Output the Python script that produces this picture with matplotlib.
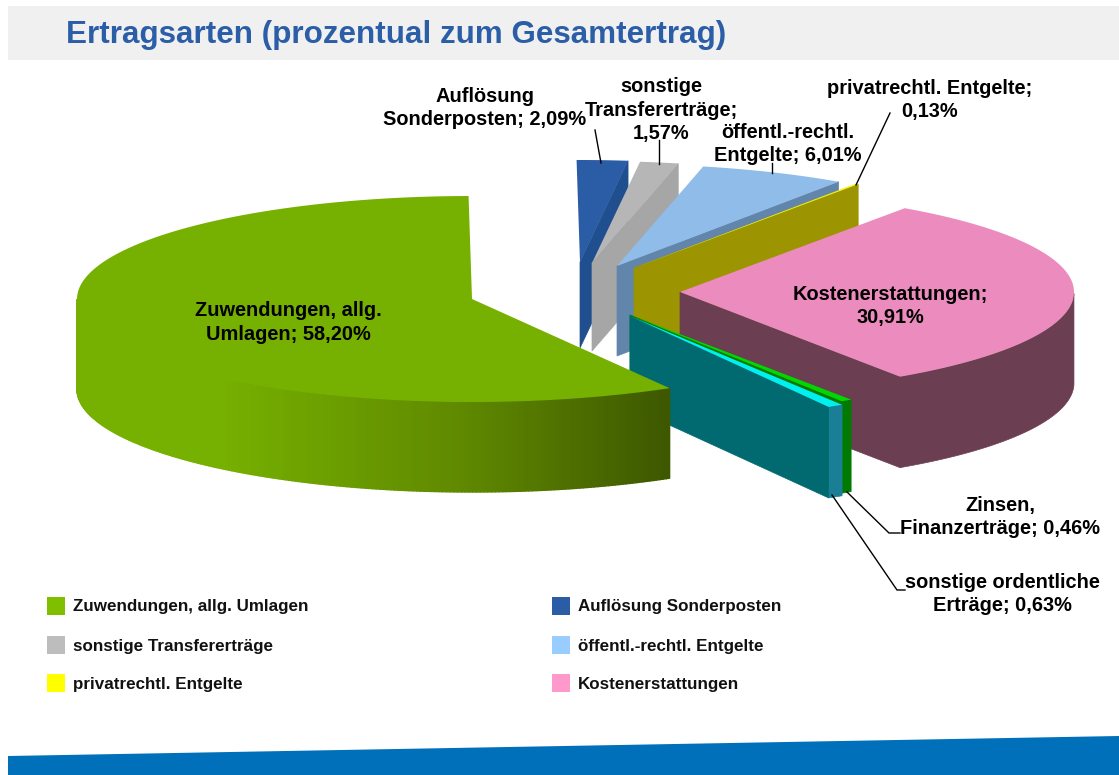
import numpy as np
import matplotlib
matplotlib.use("Agg")
import matplotlib.pyplot as plt
from matplotlib.patches import Polygon, Rectangle
from matplotlib.collections import PolyCollection
from matplotlib.colors import to_rgb

plt.rcParams['font.family'] = ['Liberation Sans', 'DejaVu Sans']

# ---- data ----
categories = ["Zuwendungen, allg. Umlagen", "Auflösung Sonderposten", "sonstige Transfererträge",
              "öffentl.-rechtl. Entgelte", "privatrechtl. Entgelte", "Kostenerstattungen",
              "Zinsen, Finanzerträge", "sonstige ordentliche Erträge"]
values = [58.20, 2.09, 1.57, 6.01, 0.13, 30.91, 0.46, 0.63]
title = "Ertragsarten (prozentual zum Gesamtertrag)"
data_labels = ["Zuwendungen, allg.\nUmlagen; 58,20%", "Auflösung\nSonderposten; 2,09%",
               "sonstige\nTransfererträge;\n1,57%", "öffentl.-rechtl.\nEntgelte; 6,01%",
               "privatrechtl. Entgelte;\n0,13%", "Kostenerstattungen;\n30,91%",
               "Zinsen,\nFinanzerträge; 0,46%", "sonstige ordentliche\nErträge; 0,63%"]
legend_items = categories[:6]

# ---- style / layout (pixels) ----
top_cols = ["#76B000", "#2B5CA6", "#B6B6B6", "#8FBCE8", "#F2F200", "#EC8BBD", "#00D800", "#00F0F0"]
face_cols = [None, "#1F4F8F", "#A6A6A6", "#6285AC", "#9C9400", "#6B3E52", "#007A00", "#006A70"]
rim_cols = ["#7AA800", None, None, None, None, "#6B3E52", "#007A00", "#1A7F96"]
apex = [(472, 299), (580, 262), (592, 263), (617, 266), (634, 268), (680, 292), (630, 315), (630, 316)]
rx = [395, 393, 393, 393, 393, 394, 396, 397]
ry = [103, 102, 102, 102, 102, 102, 102, 105]
depth = [90, 86, 88, 90, 90, 91, 92, 91]
start_angle = 90.5
leg_cols = ["#80BF00", "#2B5CA6", "#BDBDBD", "#99CCFF", "#FFFF00", "#FF99CC"]
leg_pos = [(47, 606), (552, 606), (47, 645), (552, 645), (47, 683), (552, 683)]
label_pos = [(288, 322.5), (485, 108), (661, 110), (788, 144), (930, 100), (890, 306), (1000, 517), (1002, 594)]
leaders = [[(595, 130), (601, 163)], [(659, 140), (659, 164)], [(772, 163), (772, 173)],
           [(890, 113), (856, 185)], [(847, 492), (889, 533), (900, 533)],
           [(832, 495), (897, 590), (905, 590)]]

fig = plt.figure(figsize=(11.19, 7.75), dpi=100)
ax = fig.add_axes([0, 0, 1, 1])
ax.set_xlim(0, 1119)
ax.set_ylim(775, 0)
ax.axis("off")

# header + footer
ax.add_patch(Rectangle((8, 6), 1111, 54, fc="#F0F0F0", ec="none"))
ax.text(66, 35, title, fontsize=22.6, fontweight="bold", color="#2B5EA7", va="center", ha="left")
ax.add_patch(Polygon([(8, 756), (1119, 736), (1119, 775), (8, 775)], fc="#0070BA", ec="none"))

# slice angles (clockwise), every slice from its value
spans = np.array(values) / sum(values) * 360
ends = np.empty(len(values))
starts = np.empty(len(values))
a = start_angle + spans[0]
for i, s in enumerate(spans):
    starts[i], ends[i] = a, a - s
    a -= s


def rim(i, t):
    t = np.radians(t)
    return apex[i][0] + rx[i] * np.cos(t), apex[i][1] - ry[i] * np.sin(t)


def green_shade(x):
    c0, c1, c2 = map(np.array, map(to_rgb, ["#76B000", "#5F8800", "#3E5800"]))
    u = (x - 77) / (668 - 77)
    if u < 0.25:
        return c0
    if u < 0.66:
        return c0 + (c1 - c0) * (u - 0.25) / 0.41
    return c1 + (c2 - c1) * (u - 0.66) / 0.34


def draw_slice(i):
    ts = np.linspace(starts[i], ends[i], 120)
    xs, ys = rim(i, ts)
    # outer wall: only the part that faces the viewer
    vis = np.sin(np.radians(ts)) <= 0
    if rim_cols[i] is not None and vis.sum() > 1:
        xv, yv = xs[vis], ys[vis]
        if i == 0:  # gradient along the wall
            tv = np.linspace(ts[vis][0], ts[vis][-1], 221)
            xg, yg = rim(i, tv)
            polys = [[(xg[k], yg[k]), (xg[k + 1], yg[k + 1]), (xg[k + 1], yg[k + 1] + depth[i]),
                      (xg[k], yg[k] + depth[i])] for k in range(220)]
            cols = [green_shade(xg[k]) for k in range(220)]
            ax.add_collection(PolyCollection(polys, facecolors=cols, edgecolors=cols, linewidths=1.0))
        else:
            pts = list(zip(xv, yv)) + list(zip(xv[::-1], yv[::-1] + depth[i]))
            ax.add_patch(Polygon(pts, fc=rim_cols[i], ec=rim_cols[i], lw=0.5))
    # cut face at the clockwise end of the slice
    if face_cols[i] is not None:
        ex, ey = xs[-1], ys[-1]
        ax0, ay0 = apex[i]
        ax.add_patch(Polygon([(ax0, ay0), (ex, ey), (ex, ey + depth[i]), (ax0, ay0 + depth[i])],
                             fc=face_cols[i], ec=face_cols[i], lw=0.5))
    # top surface
    ax.add_patch(Polygon([apex[i]] + list(zip(xs, ys)), fc=top_cols[i], ec="none"))


for i in [1, 2, 3, 4, 5, 6, 7, 0]:
    draw_slice(i)

# leader lines
for ln in leaders:
    ax.plot(*zip(*ln), color="black", lw=1.0, solid_joinstyle="miter")

# data labels
for (x, y), s in zip(label_pos, data_labels):
    ax.text(x, y, s, fontsize=14.4, fontweight="bold", color="black", ha="center", va="center",
            linespacing=1.29)

# legend
for (x, y), c, s in zip(leg_pos, leg_cols, legend_items):
    ax.add_patch(Rectangle((x, y - 9), 18, 18, fc=c, ec="none"))
    ax.text(x + 26, y + 1, s, fontsize=12.25, fontweight="bold", color="#111111", ha="left", va="center")

fig.savefig("out.png", dpi=100)
